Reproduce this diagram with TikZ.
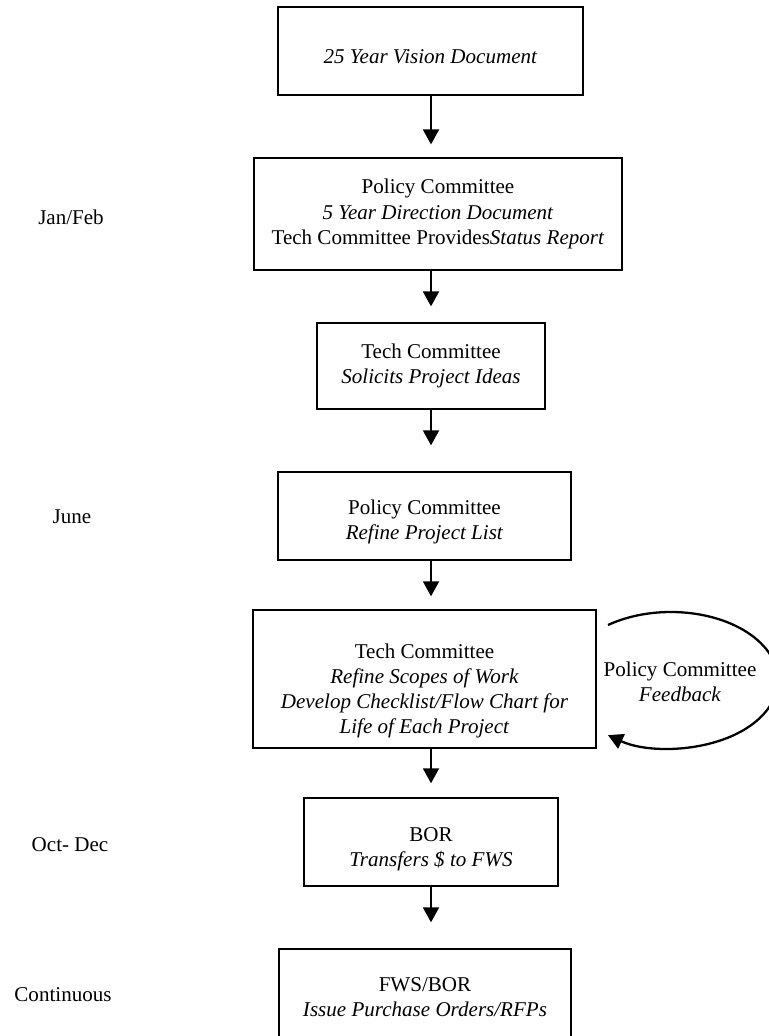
\documentclass[tikz,border=0pt]{standalone}
\usepackage{fontspec}
\setmainfont{Liberation Serif}
\usepackage{tikz}
\usetikzlibrary{arrows.meta}
\tikzset{
  stage/.style={rectangle, draw=black, line width=0.75pt, fill=white, inner sep=2pt,
                align=center, font=\fontsize{12}{14.3}\selectfont},
  month/.style={align=center, font=\fontsize{12}{14.3}\selectfont},
  flow/.style={-{Triangle[length=8.5pt,width=9pt]}, line width=1.3pt},
}

\begin{document}
\begin{tikzpicture}[x=0.57pt, y=-0.57pt]
        \useasboundingbox (0,0) rectangle (768,1036);
        \coordinate (ax) at (431,0);
        % flow of stages
        \node[stage, minimum width=173.9pt, minimum height=50.2pt] (vision) at (430.5,51)
          {\rule{0pt}{14pt}\textit{25 Year Vision Document}};
        \node[stage, minimum width=209.8pt, minimum height=63.8pt] (direct) at (438,214)
          {Policy Committee\\ \textit{5 Year Direction Document}\\ Tech Committee Provides\textit{Status Report}};
        \node[stage, minimum width=130pt, minimum height=49pt] (ideas) at (431,366)
          {Tech Committee\\ \textit{Solicits Project Ideas}};
        \node[stage, minimum width=167pt, minimum height=50.2pt] (plist) at (424.5,516)
          {\rule{0pt}{15pt}Policy Committee\\ \textit{Refine Project List}};
        \node[stage, minimum width=195.5pt, minimum height=78.7pt] (scopes) at (424.5,679)
          {\rule{0pt}{22pt}Tech Committee\\ \textit{Refine Scopes of Work}\\
           \textit{Develop Checklist/Flow Chart for}\\ \textit{Life of Each Project}};
        \node[stage, minimum width=144.8pt, minimum height=50.2pt] (bor) at (431,842)
          {\rule{0pt}{16pt}BOR\\ \textit{Transfers \$ to FWS}};
        \node[stage, minimum width=166.4pt, minimum height=50.2pt] (fws) at (425,993)
          {\rule{0pt}{13pt}FWS/BOR\\ \textit{Issue Purchase Orders/RFPs}};
        \draw[flow, shorten >=7.4pt] (ax |- vision.south) -- (ax |- direct.north);
        \draw[flow, shorten >=9.1pt] (ax |- direct.south) -- (ax |- ideas.north);
        \draw[flow, shorten >=14.8pt] (ax |- ideas.south) -- (ax |- plist.north);
        \draw[flow, shorten >=7.4pt] (ax |- plist.south) -- (ax |- scopes.north);
        \draw[flow, shorten >=8pt] (ax |- scopes.south) -- (ax |- bor.north);
        \draw[flow, shorten >=14.8pt] (ax |- bor.south) -- (ax |- fws.north);
        % feedback loop
        \node[month] (feedback) at (680,682) {Policy Committee\\ \textit{Feedback}};
        \coordinate (fbstart) at (608,625);
        \draw[flow] (fbstart) arc[start angle=126, end angle=-126, x radius=61pt, y radius=38.8pt];
        % months
        \node[month] (janfeb) at (71,217) {Jan/Feb};
        \node[month] (june) at (72,517) {June};
        \node[month] (octdec) at (70,845) {Oct- Dec};
        \node[month] (cont) at (63,995) {Continuous};
      \end{tikzpicture}
\end{document}
